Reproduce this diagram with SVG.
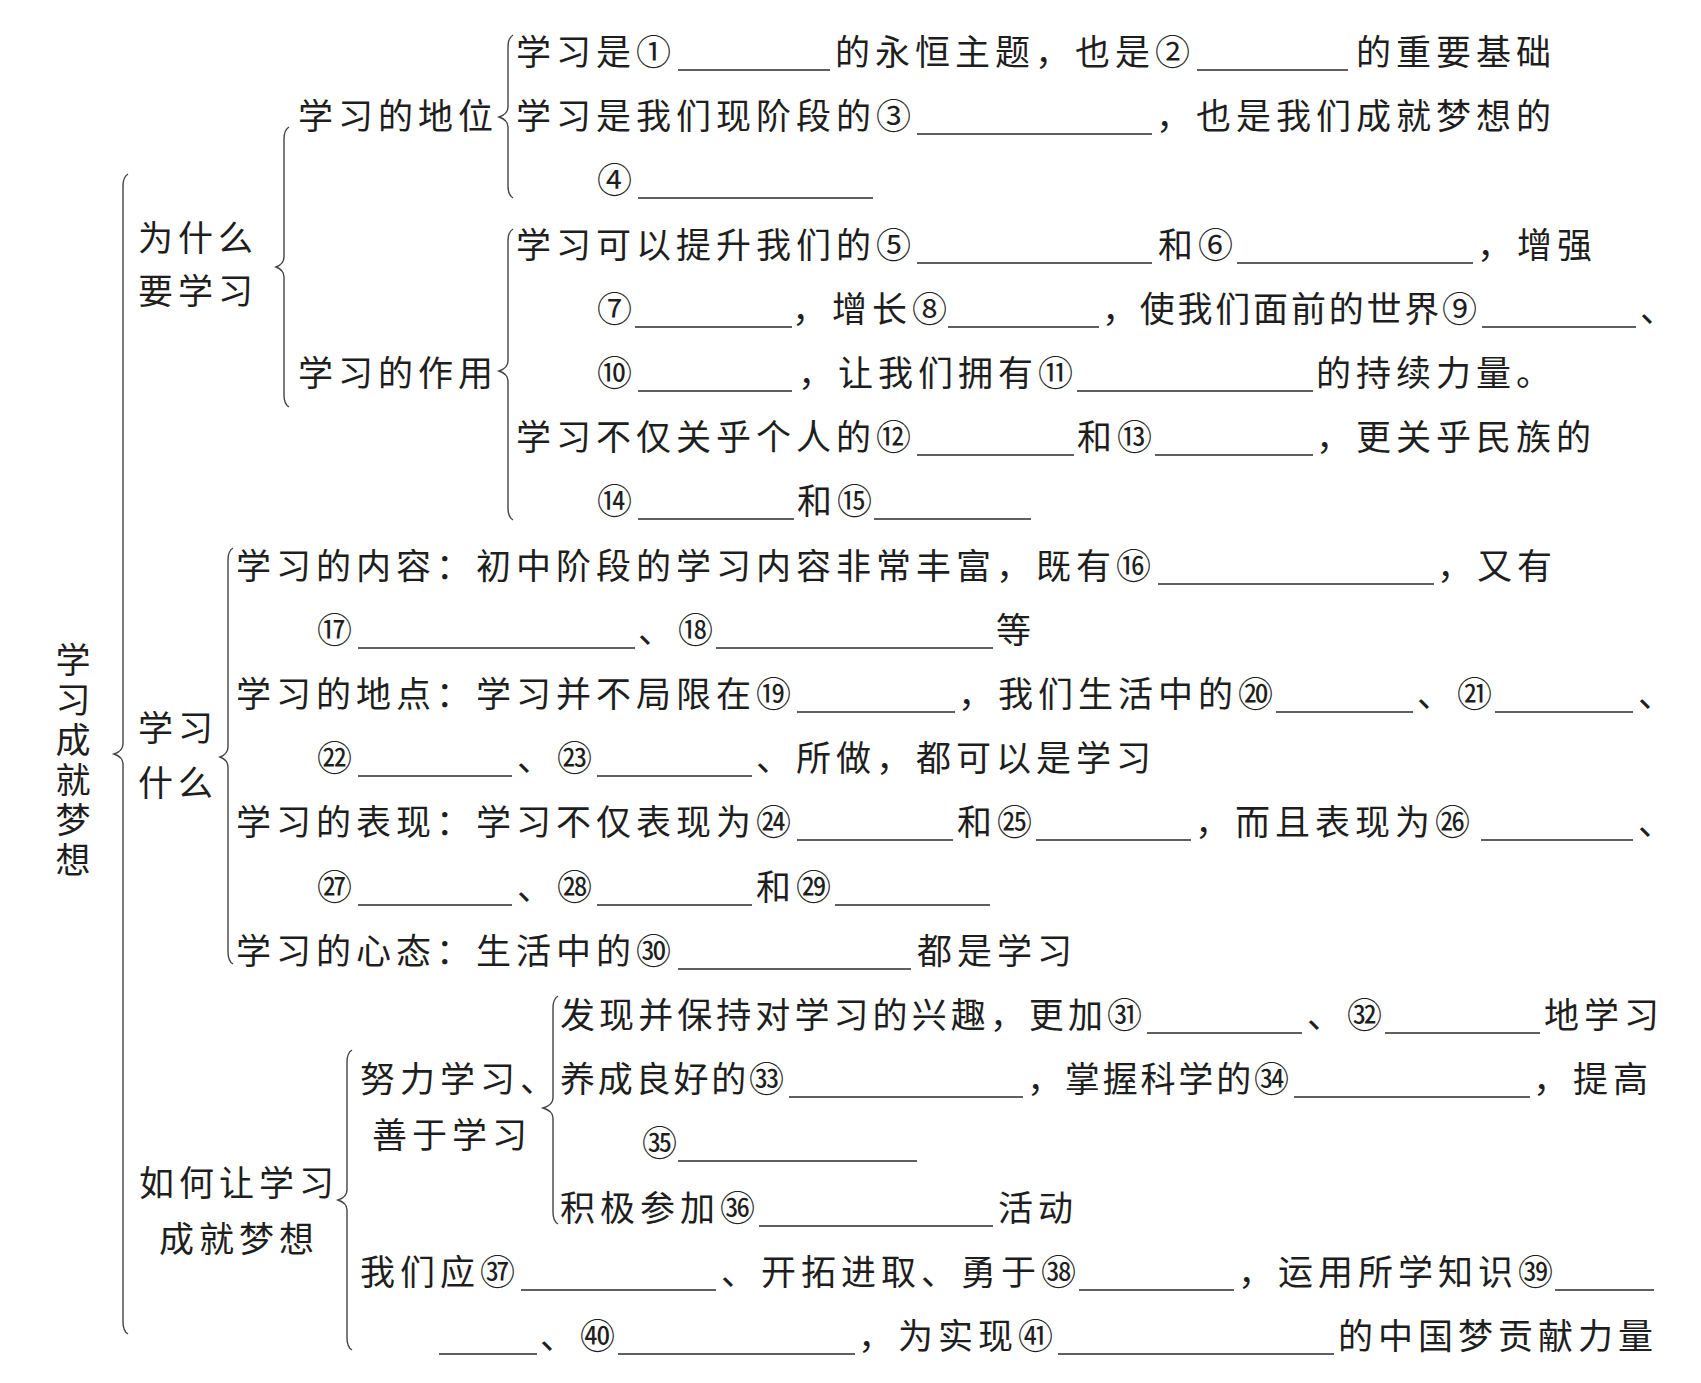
<svg xmlns="http://www.w3.org/2000/svg" width="1701" height="1383" viewBox="0 0 1701 1383">
<style>
.t{font-family:"Noto Sans CJK SC","Noto Sans CJK JP",sans-serif;font-size:35px;letter-spacing:5px;fill:#1e1e1e;font-weight:400}
.v{font-family:"Noto Sans CJK SC","Noto Sans CJK JP",sans-serif;font-size:35px;letter-spacing:5px;fill:#1e1e1e;font-weight:400;writing-mode:vertical-rl}
.b{stroke:#2a2a2a;stroke-width:1.6;fill:none}
.br{stroke:#444;stroke-width:1.4;fill:none}
</style>
<rect width="1701" height="1383" fill="#fff"/>
<g id="connectors">
<path class="br" d="M128 174 Q123 177 123 186 L123 744 Q123 751 114 754 Q123 757 123 764 L123 1322 Q123 1331 128 1334"/>
<path class="br" d="M289 127 Q284 130 284 139 L284 257 Q284 264 276 267 Q284 270 284 277 L284 395 Q284 404 289 407"/>
<path class="br" d="M513 35 Q508 38 508 47 L508 107 Q508 114 499 117 Q508 120 508 127 L508 186 Q508 195 513 198"/>
<path class="br" d="M513 229 Q508 232 508 241 L508 361 Q508 368 499 371 Q508 374 508 381 L508 508 Q508 517 513 520"/>
<path class="br" d="M233 548 Q228 551 228 560 L228 747 Q228 754 220 757 Q228 760 228 767 L228 952 Q228 961 233 964"/>
<path class="br" d="M352 1050 Q347 1053 347 1062 L347 1190 Q347 1197 338 1200 Q347 1203 347 1210 L347 1338 Q347 1347 352 1350"/>
<path class="br" d="M558 996 Q553 999 553 1008 L553 1098 Q553 1105 543 1108 Q553 1111 553 1118 L553 1212 Q553 1221 558 1224"/>
</g>
<g id="n-root">
<text class="v" x="73" y="642">学习成就梦想</text>
</g>
<g id="n-why">
<text class="t" x="138" y="251">为什么</text>
<text class="t" x="138" y="304">要学习</text>
</g>
<g id="n-status">
<text class="t" x="298" y="129">学习的地位</text>
</g>
<g id="n-status-1">
<text class="t" x="516" y="65">学习是①</text>
<line class="b" x1="678" y1="70" x2="830" y2="70"/>
<text class="t" x="835" y="65">的永恒主题，也是②</text>
<line class="b" x1="1197" y1="70" x2="1348" y2="70"/>
<text class="t" x="1356" y="65">的重要基础</text>
</g>
<g id="n-status-2">
<text class="t" x="516" y="129">学习是我们现阶段的③</text>
<line class="b" x1="917" y1="134" x2="1152" y2="134"/>
<text class="t" x="1156" y="129">，也是我们成就梦想的</text>
<text class="t" x="597" y="193">④</text>
<line class="b" x1="638" y1="198" x2="873" y2="198"/>
</g>
<g id="n-role">
<text class="t" x="298" y="386">学习的作用</text>
</g>
<g id="n-role-1">
<text class="t" x="516" y="258">学习可以提升我们的⑤</text>
<line class="b" x1="917" y1="263" x2="1152" y2="263"/>
<text class="t" x="1158" y="258">和⑥</text>
<line class="b" x1="1237" y1="263" x2="1473" y2="263"/>
<text class="t" x="1477" y="258">，增强</text>
<text class="t" x="597" y="322">⑦</text>
<line class="b" x1="635" y1="327" x2="792" y2="327"/>
<text class="t" x="792" y="322">，增长⑧</text>
<line class="b" x1="948" y1="327" x2="1099" y2="327"/>
<text class="t" x="1102" y="322" textLength="380" lengthAdjust="spacing">，使我们面前的世界⑨</text>
<line class="b" x1="1482" y1="327" x2="1636" y2="327"/>
<text class="t" x="1640" y="322">、</text>
<text class="t" x="597" y="386">⑩</text>
<line class="b" x1="638" y1="391" x2="792" y2="391"/>
<text class="t" x="798" y="386">，让我们拥有⑪</text>
<line class="b" x1="1077" y1="391" x2="1313" y2="391"/>
<text class="t" x="1316" y="386">的持续力量。</text>
</g>
<g id="n-role-2">
<text class="t" x="516" y="450">学习不仅关乎个人的⑫</text>
<line class="b" x1="917" y1="455" x2="1074" y2="455"/>
<text class="t" x="1077" y="450">和⑬</text>
<line class="b" x1="1155" y1="455" x2="1313" y2="455"/>
<text class="t" x="1316" y="450">，更关乎民族的</text>
<text class="t" x="597" y="514">⑭</text>
<line class="b" x1="638" y1="519" x2="794" y2="519"/>
<text class="t" x="797" y="514">和⑮</text>
<line class="b" x1="874" y1="519" x2="1031" y2="519"/>
</g>
<g id="n-what">
<text class="t" x="138" y="741">学习</text>
<text class="t" x="138" y="796">什么</text>
</g>
<g id="n-what-1">
<text class="t" x="236" y="579">学习的内容：初中阶段的学习内容非常丰富，既有⑯</text>
<line class="b" x1="1158" y1="584" x2="1434" y2="584"/>
<text class="t" x="1437" y="579">，又有</text>
<text class="t" x="317" y="643">⑰</text>
<line class="b" x1="358" y1="648" x2="635" y2="648"/>
<text class="t" x="638" y="643">、⑱</text>
<line class="b" x1="716" y1="648" x2="993" y2="648"/>
<text class="t" x="996" y="643">等</text>
</g>
<g id="n-what-2">
<text class="t" x="236" y="707">学习的地点：学习并不局限在⑲</text>
<line class="b" x1="797" y1="712" x2="955" y2="712"/>
<text class="t" x="958" y="707">，我们生活中的⑳</text>
<line class="b" x1="1276" y1="712" x2="1413" y2="712"/>
<text class="t" x="1417" y="707">、㉑</text>
<line class="b" x1="1495" y1="712" x2="1633" y2="712"/>
<text class="t" x="1638" y="707">、</text>
<text class="t" x="317" y="771">㉒</text>
<line class="b" x1="358" y1="776" x2="512" y2="776"/>
<text class="t" x="517" y="771">、㉓</text>
<line class="b" x1="597" y1="776" x2="752" y2="776"/>
<text class="t" x="756" y="771">、所做，都可以是学习</text>
</g>
<g id="n-what-3">
<text class="t" x="236" y="835">学习的表现：学习不仅表现为㉔</text>
<line class="b" x1="797" y1="840" x2="953" y2="840"/>
<text class="t" x="957" y="835">和㉕</text>
<line class="b" x1="1036" y1="840" x2="1191" y2="840"/>
<text class="t" x="1195" y="835">，而且表现为㉖</text>
<line class="b" x1="1481" y1="840" x2="1633" y2="840"/>
<text class="t" x="1638" y="835">、</text>
<text class="t" x="317" y="900">㉗</text>
<line class="b" x1="358" y1="905" x2="512" y2="905"/>
<text class="t" x="517" y="900">、㉘</text>
<line class="b" x1="597" y1="905" x2="752" y2="905"/>
<text class="t" x="756" y="900">和㉙</text>
<line class="b" x1="835" y1="905" x2="990" y2="905"/>
</g>
<g id="n-what-4">
<text class="t" x="236" y="964">学习的心态：生活中的㉚</text>
<line class="b" x1="678" y1="969" x2="911" y2="969"/>
<text class="t" x="917" y="964">都是学习</text>
</g>
<g id="n-how">
<text class="t" x="139" y="1196">如何让学习</text>
<text class="t" x="159" y="1252">成就梦想</text>
</g>
<g id="n-effort">
<text class="t" x="360" y="1092">努力学习、</text>
<text class="t" x="372" y="1148">善于学习</text>
</g>
<g id="n-effort-1">
<text class="t" x="560" y="1028" textLength="587" lengthAdjust="spacing">发现并保持对学习的兴趣，更加㉛</text>
<line class="b" x1="1147" y1="1033" x2="1302" y2="1033"/>
<text class="t" x="1307" y="1028">、㉜</text>
<line class="b" x1="1385" y1="1033" x2="1540" y2="1033"/>
<text class="t" x="1544" y="1028">地学习</text>
</g>
<g id="n-effort-2">
<text class="t" x="560" y="1092" textLength="229" lengthAdjust="spacing">养成良好的㉝</text>
<line class="b" x1="789" y1="1097" x2="1023" y2="1097"/>
<text class="t" x="1027" y="1092" textLength="267" lengthAdjust="spacing">，掌握科学的㉞</text>
<line class="b" x1="1294" y1="1097" x2="1530" y2="1097"/>
<text class="t" x="1533" y="1092">，提高</text>
<text class="t" x="642" y="1156">㉟</text>
<line class="b" x1="678" y1="1161" x2="917" y2="1161"/>
</g>
<g id="n-effort-3">
<text class="t" x="560" y="1221">积极参加㊱</text>
<line class="b" x1="759" y1="1226" x2="993" y2="1226"/>
<text class="t" x="998" y="1221">活动</text>
</g>
<g id="n-how-2">
<text class="t" x="360" y="1285">我们应㊲</text>
<line class="b" x1="521" y1="1290" x2="716" y2="1290"/>
<text class="t" x="721" y="1285">、开拓进取、勇于㊳</text>
<line class="b" x1="1079" y1="1290" x2="1234" y2="1290"/>
<text class="t" x="1238" y="1285">，运用所学知识㊴</text>
<line class="b" x1="1555" y1="1290" x2="1654" y2="1290"/>
<line class="b" x1="439" y1="1354" x2="537" y2="1354"/>
<text class="t" x="540" y="1349">、㊵</text>
<line class="b" x1="618" y1="1354" x2="855" y2="1354"/>
<text class="t" x="858" y="1349">，为实现㊶</text>
<line class="b" x1="1058" y1="1354" x2="1334" y2="1354"/>
<text class="t" x="1338" y="1349">的中国梦贡献力量</text>
</g>
</svg>
